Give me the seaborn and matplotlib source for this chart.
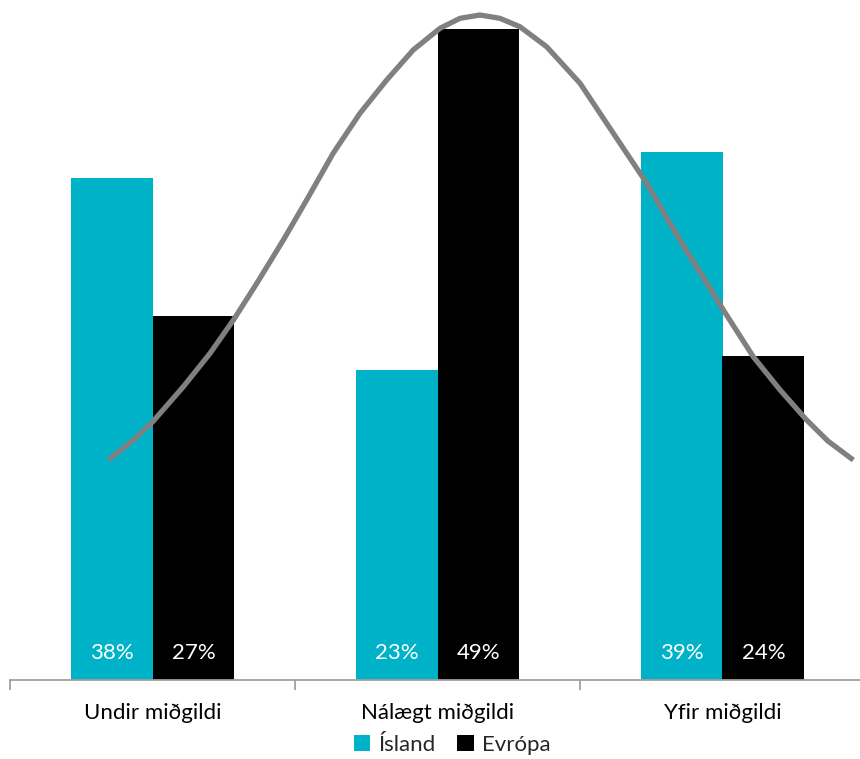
import matplotlib
matplotlib.use("Agg")
import matplotlib.pyplot as plt
import seaborn as sns
import pandas as pd
from matplotlib.patches import Patch

categories = ["Undir miðgildi", "Nálægt miðgildi", "Yfir miðgildi"]
series = ["Ísland", "Evrópa"]
island_vals = [37.8, 23.3, 39.7]
evropa_vals = [27.4, 49.0, 24.4]
island_labels = ["38%", "23%", "39%"]
evropa_labels = ["27%", "49%", "24%"]

# bell curve (category-axis x, same value scale as bars)
curve_x = [-0.155, -0.067, 0.001, 0.108, 0.202, 0.284, 0.366, 0.459, 0.541, 0.634,
           0.728, 0.822, 0.915, 1.009, 1.079, 1.149, 1.219, 1.289, 1.383, 1.500,
           1.617, 1.734, 1.804, 1.886, 1.921, 2.003, 2.108, 2.202, 2.295, 2.370,
           2.459]
curve_y = [16.53, 18.04, 19.42, 22.05, 24.57, 27.08, 29.84, 33.10, 36.12, 39.64,
           42.65, 45.16, 47.42, 49.05, 49.80, 50.05, 49.80, 49.17, 47.66, 44.91,
           41.14, 37.38, 34.78, 31.85, 30.69, 27.83, 24.31, 21.81, 19.55, 17.96,
           16.53]

colors = {"Ísland": "#00B2C8", "Evrópa": "#000000"}

df = pd.DataFrame({
    "cat": categories * 2,
    "series": [series[0]] * 3 + [series[1]] * 3,
    "val": island_vals + evropa_vals,
})

sns.set_style("white")
plt.rcParams["font.family"] = ["Lato", "DejaVu Sans"]

fig = plt.figure(figsize=(8.6, 7.59), dpi=100)
ax = fig.add_axes([10 / 860, 79.5 / 759, 855 / 860, 679.5 / 759])

sns.barplot(data=df, x="cat", y="val", hue="series", order=categories,
            hue_order=series, palette=colors, width=0.575, gap=0,
            saturation=1, ax=ax, legend=False, linewidth=0)

ax.set_xlim(-0.5, 2.5)
ax.set_ylim(0, 51.18)
ax.set_xlabel("")
ax.set_ylabel("")
ax.set_yticks([])

for sp in ["top", "right", "left"]:
    ax.spines[sp].set_visible(False)
ax.spines["bottom"].set_color("#A0A0A0")
ax.spines["bottom"].set_linewidth(1.3)

ax.set_xticks([-0.5, 0.5, 1.5, 2.5])
ax.set_xticklabels([])
ax.tick_params(axis="x", which="major", length=7, width=1.3, color="#A0A0A0",
               direction="out", bottom=True)
ax.set_xticks([0, 1, 2], minor=True)
ax.set_xticklabels(categories, minor=True, fontsize=16, color="#000000")
ax.tick_params(axis="x", which="minor", length=0, pad=17)

all_labels = [island_labels, evropa_labels]
for cont, labs in zip(ax.containers, all_labels):
    for rect, lab in zip(cont, labs):
        ax.text(rect.get_x() + rect.get_width() / 2, 2.0, lab, ha="center",
                va="center", color="white", fontsize=16)

ax2 = ax.twinx()
ax2.set_ylim(0, 51.18)
ax2.set_xlim(-0.5, 2.5)
sns.lineplot(x=curve_x, y=curve_y, ax=ax2, sort=False, color="#808080",
             linewidth=3.8, solid_capstyle="butt", solid_joinstyle="round")
ax2.set_yticks([])
for sp in ax2.spines.values():
    sp.set_visible(False)
ax2.set_ylabel("")

handles = [Patch(facecolor=colors[s], edgecolor="none") for s in series]
fig.legend(handles, series, loc="center", bbox_to_anchor=(452 / 860, 1 - 745 / 759),
           ncol=2, frameon=False, fontsize=16, handlelength=0.75, handleheight=0.75,
           handletextpad=0.35, columnspacing=1.0, borderpad=0)

fig.savefig("out.png", dpi=100)
